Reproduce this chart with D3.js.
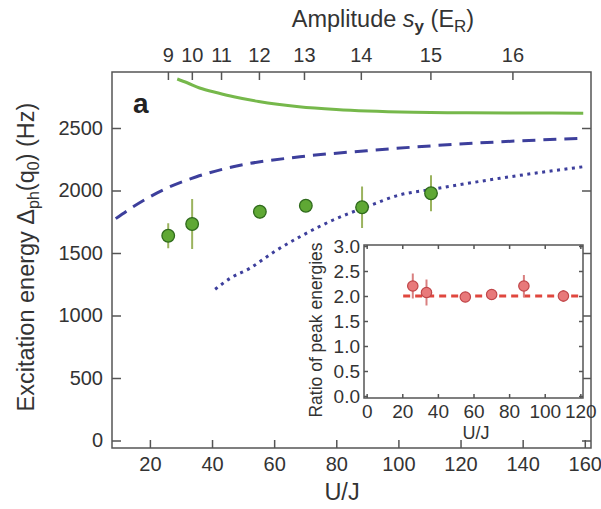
<!DOCTYPE html>
<html><head><meta charset="utf-8">
<script src="https://cdn.jsdelivr.net/npm/d3@7"></script>
<style>
html,body{margin:0;padding:0;background:#fff;}
svg{display:block;font-family:"Liberation Sans",Arial,sans-serif;}
</style></head>
<body><svg id="c" width="601" height="509"></svg>
<script>
// ---- data ----
const pointUJ = [25.9, 33.6, 55.4, 70.2, 88.3, 110.5];
const excitation = [1638, 1732, 1830, 1878, 1866, 1978];
const excitationErr = [100, 200, 55, 40, 166, 144];

const greenUJ = [28.8, 32, 36, 42, 47, 55, 68, 80, 90, 105, 122, 140, 159.5];
const greenE = [2892, 2862, 2820, 2780, 2750, 2712, 2670, 2648, 2636, 2626, 2622, 2620, 2618];

const dashUJ = [9, 14.6, 20, 25.4, 35, 46.8, 68.3, 89.8, 111, 133, 159.5];
const dashE = [1775, 1870, 1950, 2018, 2110, 2190, 2270, 2318, 2358, 2390, 2418];

const dotUJ = [41, 46, 52.2, 60, 68.3, 79, 89.8, 100.5, 111, 132.7, 159.5];
const dotE = [1210, 1300, 1378, 1510, 1630, 1764, 1870, 1965, 2010, 2098, 2190];

const xTicks = [20, 40, 60, 80, 100, 120, 140, 160];
const yTicks = [0, 500, 1000, 1500, 2000, 2500];
const amplitudeLabels = [9, 10, 11, 12, 13, 14, 15, 16];
const amplitudeUJ = [25.8, 33.5, 42.9, 55.1, 69.6, 87.9, 110.3, 136.7];

const ratio = [2.2, 2.07, 1.98, 2.03, 2.2, 2.0];
const ratioErr = [0.25, 0.26, 0.1, 0.06, 0.22, 0.12];
const ratioLineUJ = [20.5, 120];
const ratioLine = [2.0, 2.0];
const insetXTicks = [0, 20, 40, 60, 80, 100, 120];
const insetYTicks = [0.0, 0.5, 1.0, 1.5, 2.0, 2.5, 3.0];

// ---- layout ----
const svg = d3.select("#c");
const frameCol = "#555";
const L = 112, R = 591, T = 72, B = 448;
const x = d3.scaleLinear().domain([7.8, 162]).range([L, R]);
const y = d3.scaleLinear().domain([-60, 2948]).range([B, T]);

function styleAxis(g, fs) {
  g.select(".domain").remove();
  g.selectAll(".tick line").attr("stroke", frameCol).attr("stroke-width", 1.5);
  g.selectAll(".tick text").attr("fill", "#333").attr("font-size", fs)
    .attr("font-family", "Liberation Sans, Arial, sans-serif");
}

// main axes
svg.append("g").attr("transform", `translate(0,${B})`)
  .call(d3.axisBottom(x).tickValues(xTicks).tickSize(-8).tickPadding(9))
  .call(g => styleAxis(g, 20));
svg.append("g").attr("transform", `translate(${L},0)`)
  .call(d3.axisLeft(y).tickValues(yTicks).tickSize(-9).tickPadding(9).tickFormat(d3.format("d")))
  .call(g => styleAxis(g, 20));
svg.append("g").attr("transform", `translate(${R},0)`)
  .call(d3.axisRight(y).tickValues(yTicks).tickSize(-9).tickFormat(""))
  .call(g => styleAxis(g, 20));
svg.append("g").attr("transform", `translate(0,${T})`)
  .call(d3.axisTop(x).tickValues(amplitudeUJ).tickSize(-8)
    .tickFormat((d, i) => amplitudeLabels[i]).tickPadding(10))
  .call(g => styleAxis(g, 20));

svg.append("rect").attr("x", L).attr("y", T).attr("width", R - L).attr("height", B - T)
  .attr("fill", "none").attr("stroke", frameCol).attr("stroke-width", 1.5);

// curves
const line = d3.line().curve(d3.curveMonotoneX);
function pts(xs, ys) { return xs.map((v, i) => [x(v), y(ys[i])]); }
svg.append("path").attr("d", line(pts(greenUJ, greenE)))
  .attr("fill", "none").attr("stroke", "#76b84b").attr("stroke-width", 3);
svg.append("path").attr("d", line(pts(dashUJ, dashE)))
  .attr("fill", "none").attr("stroke", "#3d3f9c").attr("stroke-width", 3)
  .attr("stroke-dasharray", "13,8");
svg.append("path").attr("d", line(pts(dotUJ, dotE)))
  .attr("fill", "none").attr("stroke", "#3d3f9c").attr("stroke-width", 3)
  .attr("stroke-dasharray", "3,4.5");

// data points
const pg = svg.append("g");
pg.selectAll("line").data(pointUJ).join("line")
  .attr("x1", d => x(d)).attr("x2", d => x(d))
  .attr("y1", (d, i) => y(excitation[i] + excitationErr[i]))
  .attr("y2", (d, i) => y(excitation[i] - excitationErr[i]))
  .attr("stroke", "#9bb35e").attr("stroke-width", 2);
pg.selectAll("circle").data(pointUJ).join("circle")
  .attr("cx", d => x(d)).attr("cy", (d, i) => y(excitation[i])).attr("r", 6.3)
  .attr("fill", "#5fa834").attr("stroke", "#2f6a1c").attr("stroke-width", 1.3);

// label a
svg.append("text").attr("x", 133).attr("y", 113).attr("font-size", 28)
  .attr("font-weight", "bold").attr("fill", "#222").text("a");

// axis titles
svg.append("text").attr("x", 342).attr("y", 500).attr("text-anchor", "middle")
  .attr("font-size", 23.5).attr("fill", "#333").text("U/J");

const tt = svg.append("text").attr("x", 383).attr("y", 27).attr("text-anchor", "middle")
  .attr("font-size", 23.5).attr("fill", "#333");
tt.append("tspan").text("Amplitude ");
tt.append("tspan").attr("font-style", "italic").text("s");
tt.append("tspan").attr("font-weight", "bold").attr("font-size", 17).attr("dy", 5).text("y");
tt.append("tspan").attr("dy", -5).text(" (E");
tt.append("tspan").attr("font-size", 17).attr("dy", 5).text("R");
tt.append("tspan").attr("dy", -5).text(")");

const yt = svg.append("text").attr("transform", "translate(34,257) rotate(-90)")
  .attr("text-anchor", "middle").attr("font-size", 23.5).attr("fill", "#333");
yt.append("tspan").text("Excitation energy Δ");
yt.append("tspan").attr("font-size", 16).attr("dy", 5).text("ph");
yt.append("tspan").attr("dy", -5).text("(q");
yt.append("tspan").attr("font-size", 16).attr("dy", 5).text("0");
yt.append("tspan").attr("dy", -5).text(") (Hz)");

// ---- inset ----
const iL = 364, iR = 583, iT = 245, iB = 398;
const ix = d3.scaleLinear().domain([-1.5, 121.5]).range([iL, iR]);
const iy = d3.scaleLinear().domain([-0.04, 3.02]).range([iB, iT]);

svg.append("rect").attr("x", iL).attr("y", iT).attr("width", iR - iL).attr("height", iB - iT)
  .attr("fill", "#fff");
svg.append("g").attr("transform", `translate(0,${iB})`)
  .call(d3.axisBottom(ix).tickValues(insetXTicks).tickSize(-4).tickPadding(6.5))
  .call(g => styleAxis(g, 19));
svg.append("g").attr("transform", `translate(0,${iT})`)
  .call(d3.axisTop(ix).tickValues(insetXTicks).tickSize(-4).tickFormat(""))
  .call(g => styleAxis(g, 19));
svg.append("g").attr("transform", `translate(${iL},0)`)
  .call(d3.axisLeft(iy).tickValues(insetYTicks).tickSize(-4).tickPadding(4)
    .tickFormat(d3.format(".1f")))
  .call(g => styleAxis(g, 19));
svg.append("g").attr("transform", `translate(${iR},0)`)
  .call(d3.axisRight(iy).tickValues(insetYTicks).tickSize(-4).tickFormat(""))
  .call(g => styleAxis(g, 19));
svg.append("rect").attr("x", iL).attr("y", iT).attr("width", iR - iL).attr("height", iB - iT)
  .attr("fill", "none").attr("stroke", frameCol).attr("stroke-width", 1.5);

svg.append("path")
  .attr("d", d3.line()(ratioLineUJ.map((v, i) => [ix(v), iy(ratioLine[i])])))
  .attr("fill", "none").attr("stroke", "#e0473e").attr("stroke-width", 3)
  .attr("stroke-dasharray", "7,5");

const rg = svg.append("g");
rg.selectAll("line").data(pointUJ).join("line")
  .attr("x1", d => ix(d)).attr("x2", d => ix(d))
  .attr("y1", (d, i) => iy(ratio[i] + ratioErr[i]))
  .attr("y2", (d, i) => iy(ratio[i] - ratioErr[i]))
  .attr("stroke", "#d98080").attr("stroke-width", 2);
rg.selectAll("circle").data(pointUJ).join("circle")
  .attr("cx", d => ix(d)).attr("cy", (d, i) => iy(ratio[i])).attr("r", 5.2)
  .attr("fill", "#e8797a").attr("stroke", "#c0474a").attr("stroke-width", 1.2);

svg.append("text").attr("x", 476).attr("y", 439).attr("text-anchor", "middle")
  .attr("font-size", 18).attr("fill", "#333").text("U/J");
svg.append("text").attr("transform", "translate(322,330) rotate(-90)")
  .attr("text-anchor", "middle").attr("font-size", 17.5).attr("fill", "#333")
  .text("Ratio of peak energies");
</script></body></html>
